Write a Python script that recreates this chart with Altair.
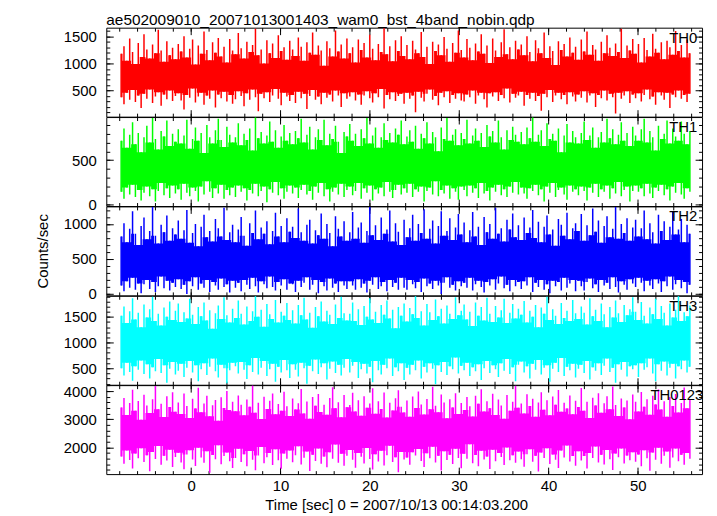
import altair as alt
import pandas as pd

TITLE = "ae502009010_20071013001403_wam0_bst_4band_nobin.qdp"
X_TITLE = "Time [sec] 0 = 2007/10/13 00:14:03.200"
Y_TITLE = "Counts/sec"

# time bins (sec, relative to 2007/10/13 00:14:03.200)
T_START = -8.0
T_STEP = 0.32

# per time bin: upper and lower envelope of the plotted light curve (counts/sec)
TH0_HI = [
    1180, 1320, 1050, 1460, 1210, 990, 1380, 1120, 1540, 1260, 1090, 1350, 1190, 1620, 1240, 1030, 1410, 1150, 1290, 1080,
    1360, 1220, 1500, 1110, 1270, 1440, 980, 1330, 1180, 1590, 1250, 1060, 1390, 1200, 1470, 1130, 1310, 1020, 1450, 1240,
    1170, 1560, 1280, 1090, 1400, 1210, 1340, 1640, 1150, 1260, 1000, 1430, 1190, 1370, 1100, 1520, 1230, 1300, 1070, 1420,
    1260, 1140, 1480, 1310, 1050, 1390, 1200, 1570, 1160, 1330, 1240, 960, 1410, 1280, 1130, 1610, 1220, 1350, 1090, 1460,
    1190, 1300, 1020, 1440, 1250, 1380, 1110, 1530, 1270, 1060, 1360, 1210, 1650, 1170, 1320, 1040, 1430, 1230, 1500, 1140,
    1340, 1080, 1420, 1260, 1190, 1580, 1120, 1310, 990, 1400, 1230, 1350, 1150, 1490, 1270, 1030, 1380, 1200, 1610, 1250,
    1110, 1450, 1290, 1060, 1370, 1220, 1540, 1180, 1330, 1010, 1460, 1240, 1120, 1390, 1630, 1170, 1300, 1080, 1420, 1260,
    1350, 1150, 1500, 1210, 1040, 1430, 1280, 1190, 1570, 1100, 1320, 1230, 970, 1410, 1250, 1360, 1130, 1480, 1200, 1310,
    1070, 1440, 1220, 1590, 1160, 1340, 1260, 1050, 1400, 1190, 1520, 1290, 1140, 1370, 1210, 1640, 1100, 1330, 1240, 1450,
    1180, 1360, 1020, 1470, 1250, 1130, 1550, 1270, 1200, 1390, 1080, 1420, 1300, 1160, 1600, 1230, 1340, 1110, 1440, 1190,
]
TH0_LO = [
    380, 250, 460, 330, 510, 290, 410, 180, 440, 350, 520, 270, 390, 470, 220, 430, 340, 500, 310, 400,
    450, 320, 150, 420, 370, 540, 280, 390, 460, 240, 410, 350, 500, 190, 430, 360, 480, 300, 420, 260,
    340, 490, 400, 210, 450, 330, 520, 380, 120, 440, 360, 470, 290, 410, 530, 350, 230, 460, 390, 310,
    420, 270, 480, 360, 440, 160, 400, 510, 330, 390, 250, 460, 370, 430, 300, 500, 410, 200, 450, 350,
    390, 470, 320, 430, 240, 410, 490, 360, 280, 450, 380, 530, 170, 420, 340, 470, 310, 400, 440, 260,
    460, 350, 410, 100, 480, 370, 300, 440, 520, 330, 400, 230, 460, 380, 490, 270, 420, 350, 450, 320,
    300, 430, 380, 500, 260, 410, 460, 340, 190, 450, 390, 470, 310, 420, 360, 540, 280, 440, 370, 410,
    480, 220, 420, 350, 460, 310, 400, 130, 440, 380, 510, 290, 410, 460, 340, 420, 250, 470, 390, 300,
    430, 370, 490, 280, 410, 450, 200, 420, 360, 500, 320, 440, 380, 80, 460, 350, 410, 490, 270, 430,
    360, 450, 300, 420, 520, 340, 390, 240, 470, 410, 330, 460, 180, 430, 380, 500, 350, 420, 290, 440,
]

TH1_HI = [
    720, 860, 640, 790, 930, 680, 810, 590, 760, 890, 700, 980, 740, 620, 830, 770, 950, 660, 800, 710,
    850, 690, 780, 960, 630, 740, 870, 720, 810, 580, 900, 760, 690, 840, 970, 730, 650, 880, 790, 700,
    760, 920, 670, 800, 730, 860, 610, 985, 750, 820, 690, 780, 940, 710, 840, 640, 770, 900, 720, 810,
    680, 830, 750, 970, 700, 790, 880, 620, 760, 850, 730, 960, 670, 800, 740, 890, 710, 580, 820, 770,
    910, 720, 800, 660, 850, 750, 980, 690, 780, 870, 640, 760, 920, 730, 810, 700, 860, 790, 950, 680,
    770, 840, 710, 890, 630, 800, 750, 930, 690, 820, 760, 600, 870, 740, 980, 720, 790, 850, 670, 810,
    740, 960, 690, 780, 860, 720, 810, 650, 900, 770, 830, 700, 950, 760, 620, 840, 730, 880, 790, 710,
    820, 680, 870, 750, 985, 710, 790, 840, 660, 920, 740, 800, 720, 860, 590, 780, 910, 700, 830, 760,
    690, 810, 940, 730, 780, 870, 640, 760, 820, 700, 970, 750, 850, 680, 790, 930, 720, 810, 660, 880,
    780, 720, 850, 970, 700, 830, 760, 610, 890, 740, 800, 950, 690, 860, 770, 720, 940, 800, 680, 830,
]
TH1_LO = [
    140, 60, 190, 110, 220, 80, 160, 40, 130, 200, 90, 170, 30, 150, 240, 100, 180, 70, 210, 120,
    170, 50, 230, 130, 90, 190, 150, 30, 200, 110, 260, 140, 70, 180, 120, 220, 60, 160, 100, 190,
    80, 210, 140, 180, 40, 160, 120, 230, 90, 150, 200, 20, 170, 130, 250, 100, 180, 60, 140, 210,
    120, 190, 70, 160, 220, 110, 150, 50, 200, 130, 240, 90, 170, 30, 140, 190, 110, 230, 80, 160,
    200, 100, 150, 240, 60, 180, 130, 210, 40, 170, 120, 190, 90, 250, 140, 70, 160, 220, 110, 180,
    130, 230, 80, 170, 140, 200, 30, 150, 190, 110, 260, 90, 160, 120, 210, 60, 180, 140, 50, 200,
    160, 90, 210, 130, 180, 70, 240, 120, 150, 40, 190, 140, 220, 100, 170, 80, 200, 130, 250, 110,
    190, 120, 60, 180, 150, 220, 100, 170, 30, 200, 130, 240, 80, 160, 190, 110, 50, 210, 140, 170,
    100, 200, 150, 40, 190, 130, 230, 80, 170, 140, 210, 60, 180, 120, 250, 90, 160, 200, 30, 150,
    210, 140, 180, 90, 230, 120, 70, 190, 150, 220, 100, 170, 40, 200, 130, 240, 110, 60, 180, 140,
]

TH2_HI = [
    820, 1010, 740, 930, 1180, 860, 700, 970, 1090, 780, 900, 1240, 830, 720, 990, 880, 1120, 760, 940, 850,
    1050, 790, 910, 1200, 730, 870, 1000, 680, 960, 1130, 810, 900, 750, 1070, 940, 820, 1230, 770, 880, 990,
    740, 920, 1100, 830, 690, 1010, 870, 1190, 780, 950, 860, 1040, 710, 900, 1160, 820, 970, 740, 1080, 890,
    960, 800, 1220, 880, 760, 990, 1060, 720, 910, 840, 1150, 790, 1000, 870, 680, 1110, 930, 820, 1040, 760,
    880, 1170, 790, 950, 1020, 730, 900, 1240, 840, 980, 770, 1090, 860, 920, 1190, 750, 1010, 890, 700, 1060,
    810, 940, 1130, 760, 1000, 870, 1210, 790, 930, 1050, 720, 970, 1180, 830, 900, 1080, 770, 950, 1140, 850,
    1020, 740, 910, 1170, 820, 960, 700, 1100, 880, 1000, 790, 1230, 860, 940, 750, 1060, 920, 1150, 810, 980,
    770, 1090, 870, 950, 1200, 800, 1030, 740, 960, 1120, 850, 920, 690, 1070, 990, 830, 1160, 780, 940, 1010,
    900, 1140, 760, 980, 840, 1220, 890, 1050, 730, 970, 1110, 810, 930, 1240, 790, 1000, 870, 1080, 760, 950,
    1060, 820, 940, 1190, 780, 1010, 880, 720, 1130, 900, 1040, 770, 960, 1180, 850, 920, 1070, 740, 990, 860,
]
TH2_LO = [
    120, 40, 180, 90, 230, 60, 150, 10, 140, 200, 70, 170, 30, 110, 250, 80, 190, 50, 160, 100,
    210, 70, 130, 0, 180, 110, 240, 60, 150, 90, 200, 30, 170, 120, 60, 220, 100, 140, 20, 190,
    90, 160, 40, 200, 130, 70, 230, 110, 20, 180, 140, 80, 250, 100, 50, 170, 120, 210, 60, 150,
    140, 30, 190, 100, 160, 240, 60, 130, 200, 10, 170, 110, 50, 220, 90, 150, 30, 180, 120, 70,
    180, 120, 60, 210, 90, 150, 20, 190, 130, 240, 70, 110, 170, 40, 200, 100, 160, 60, 230, 90,
    60, 200, 140, 80, 170, 30, 220, 110, 150, 70, 190, 120, 0, 160, 240, 90, 130, 50, 180, 110,
    160, 90, 230, 50, 140, 190, 100, 20, 170, 120, 210, 60, 150, 250, 80, 130, 40, 200, 110, 170,
    70, 180, 120, 240, 30, 160, 100, 200, 60, 140, 10, 190, 110, 170, 50, 230, 90, 150, 200, 40,
    190, 110, 50, 170, 220, 80, 140, 30, 200, 120, 160, 70, 240, 100, 20, 180, 130, 60, 210, 150,
    100, 230, 160, 40, 190, 120, 70, 210, 150, 30, 180, 110, 250, 60, 140, 200, 80, 170, 10, 130,
]

TH3_HI = [
    1520, 1700, 1380, 1610, 1860, 1450, 1580, 1300, 1740, 1490, 1650, 1890, 1420, 1560, 1330, 1680, 1500, 1800, 1440, 1620,
    1760, 1400, 1590, 1470, 1850, 1540, 1360, 1690, 1510, 1780, 1430, 1630, 1270, 1570, 1720, 1460, 1880, 1530, 1390, 1660,
    1480, 1820, 1560, 1350, 1700, 1420, 1610, 1900, 1500, 1640, 1310, 1750, 1550, 1460, 1830, 1390, 1600, 1520, 1770, 1440,
    1630, 1370, 1730, 1530, 1870, 1450, 1580, 1290, 1690, 1510, 1800, 1410, 1620, 1540, 1360, 1740, 1480, 1890, 1570, 1430,
    1560, 1780, 1420, 1650, 1340, 1710, 1500, 1860, 1450, 1600, 1380, 1730, 1540, 1820, 1470, 1640, 1280, 1690, 1520, 1760,
    1410, 1670, 1550, 1900, 1480, 1610, 1330, 1750, 1590, 1440, 1840, 1510, 1660, 1370, 1720, 1560, 1460, 1880, 1530, 1620,
    1740, 1450, 1600, 1320, 1780, 1520, 1690, 1430, 1870, 1560, 1400, 1710, 1490, 1630, 1850, 1380, 1580, 1750, 1470, 1660,
    1540, 1810, 1390, 1620, 1500, 1730, 1300, 1680, 1560, 1890, 1440, 1650, 1520, 1360, 1770, 1480, 1620, 1420, 1830, 1570,
    1460, 1700, 1580, 1350, 1860, 1510, 1640, 1420, 1760, 1550, 1300, 1690, 1490, 1820, 1570, 1400, 1730, 1530, 1650, 1880,
    1600, 1440, 1790, 1520, 1370, 1680, 1550, 1850, 1460, 1710, 1580, 1330, 1760, 1490, 1640, 1900, 1420, 1590, 1510, 1720,
]
TH3_LO = [
    500, 360, 610, 430, 260, 540, 470, 650, 390, 580, 300, 520, 440, 680, 410, 560, 220, 490, 620, 380,
    450, 590, 330, 510, 640, 420, 560, 250, 480, 600, 370, 530, 690, 440, 320, 570, 500, 210, 460, 610,
    540, 400, 620, 470, 290, 560, 430, 700, 380, 510, 640, 350, 480, 590, 240, 530, 420, 660, 460, 310,
    580, 470, 340, 610, 500, 200, 550, 440, 670, 390, 520, 600, 280, 490, 630, 410, 570, 360, 510, 680,
    420, 550, 620, 310, 480, 590, 400, 530, 230, 640, 460, 380, 570, 500, 690, 350, 520, 440, 600, 270,
    510, 380, 570, 460, 650, 300, 530, 420, 600, 490, 190, 560, 430, 620, 370, 540, 480, 710, 400, 550,
    460, 610, 350, 520, 440, 580, 270, 500, 640, 410, 560, 480, 330, 600, 450, 680, 390, 520, 250, 570,
    630, 420, 540, 300, 590, 470, 660, 380, 510, 560, 240, 490, 610, 430, 700, 350, 530, 460, 590, 320,
    490, 570, 410, 640, 280, 520, 450, 600, 370, 550, 690, 430, 510, 220, 580, 470, 620, 340, 540, 480,
    560, 330, 600, 470, 520, 690, 400, 250, 580, 450, 630, 360, 510, 590, 300, 540, 480, 650, 420, 530,
]

TH0123_HI = [
    3420, 3760, 3150, 3580, 4050, 3300, 3650, 2980, 3870, 3490, 3220, 3710, 4180, 3360, 3550, 3080, 3820, 3440, 3960, 3270,
    3600, 3190, 3920, 3470, 3050, 3730, 3380, 4120, 3250, 3560, 3840, 3110, 3500, 3690, 2950, 3780, 3400, 4010, 3330, 3620,
    3290, 3850, 3520, 3140, 3700, 3450, 4200, 3230, 3590, 3010, 3800, 3370, 3660, 3920, 3180, 3540, 3300, 3980, 3460, 3120,
    3740, 3350, 3570, 4080, 3210, 3630, 3020, 3790, 3480, 3900, 3260, 3520, 3160, 3760, 4140, 3390, 3610, 3070, 3860, 3430,
    3510, 3940, 3280, 3680, 3130, 3820, 3410, 3560, 4100, 3200, 3640, 3370, 3950, 3060, 3590, 3310, 3750, 4030, 3450, 3240,
    3670, 3090, 3810, 3400, 3990, 3530, 3170, 3720, 3360, 4160, 3480, 3250, 3880, 3600, 3040, 3710, 3420, 3930, 3190, 3580,
    3330, 3790, 3460, 3100, 3840, 3550, 4070, 3280, 3640, 3390, 3910, 3150, 3700, 3490, 3020, 3860, 3300, 3620, 4190, 3410,
    3560, 3210, 3890, 3470, 3730, 3090, 3600, 3960, 3340, 3680, 3140, 3810, 3520, 4040, 3270, 3590, 3380, 3850, 3180, 3660,
    3440, 4110, 3300, 3620, 3050, 3770, 3490, 3930, 3230, 3570, 3820, 3360, 4170, 3510, 3120, 3740, 3420, 3670, 3000, 3880,
    3620, 3280, 3970, 3450, 3710, 3160, 3840, 3530, 4060, 3350, 3640, 3090, 3790, 3470, 3900, 3240, 3580, 4130, 3390, 3690,
]
TH0123_LO = [
    1680, 1420, 1890, 1550, 1250, 1780, 1610, 1970, 1480, 1720, 1150, 1840, 1590, 2050, 1380, 1700, 1530, 1920, 1300, 1660,
    1810, 1460, 1220, 1750, 1900, 1570, 1340, 1990, 1640, 1450, 1860, 1100, 1730, 1580, 2080, 1400, 1690, 1820, 1510, 1270,
    1620, 1950, 1480, 1760, 1330, 1870, 1560, 1190, 1710, 2010, 1440, 1650, 1800, 1370, 1930, 1540, 1240, 1780, 1600, 1890,
    1470, 1720, 2040, 1390, 1630, 1850, 1160, 1740, 1520, 1960, 1420, 1680, 1290, 1830, 1600, 2100, 1450, 1770, 1350, 1700,
    1910, 1560, 1280, 1800, 1670, 1430, 1980, 1590, 1210, 1760, 1500, 1880, 1360, 1720, 2060, 1480, 1650, 1120, 1840, 1570,
    1640, 1380, 1830, 1710, 1940, 1520, 1300, 1790, 1610, 2020, 1460, 1700, 1180, 1860, 1550, 1740, 1410, 1950, 1620, 1260,
    1770, 1600, 2110, 1440, 1730, 1330, 1880, 1570, 1680, 1230, 1920, 1510, 1800, 1660, 1370, 2000, 1540, 1720, 1450, 1850,
    1580, 1310, 1760, 1930, 1490, 1700, 1140, 1820, 1620, 1970, 1410, 1750, 1560, 1270, 1890, 1640, 2070, 1500, 1690, 1350,
    1860, 1530, 1690, 1250, 1800, 1620, 2030, 1460, 1740, 1390, 1910, 1580, 1200, 1780, 1650, 1960, 1430, 1710, 1540, 1830,
    1490, 1750, 1330, 1900, 1610, 1170, 1820, 1560, 1990, 1420, 1700, 1850, 1280, 1640, 1960, 1510, 1740, 1380, 1800, 1600,
]

SERIES_HI = [TH0_HI, TH1_HI, TH2_HI, TH3_HI, TH0123_HI]
SERIES_LO = [TH0_LO, TH1_LO, TH2_LO, TH3_LO, TH0123_LO]
BAND_NAMES = ["TH0", "TH1", "TH2", "TH3", "TH0123"]
BAND_COLORS = ["#ff0000", "#00ff00", "#0000ff", "#00ffff", "#ff00ff"]
Y_DOMAINS = [[20, 1660], [-22, 990], [-20, 1250], [180, 1910], [1050, 4215]]
Y_MAJOR = [[500, 1000, 1500], [0, 500], [0, 500, 1000], [500, 1000, 1500], [2000, 3000, 4000]]
Y_MINOR_STEP = [100, 100, 100, 100, 200]
X_DOMAIN = [-9.5, 57.2]
X_MAJOR = [0, 10, 20, 30, 40, 50]
X_MINOR = list(range(-8, 57, 2))

FONT = "Liberation Sans"
W = 600
H = 89.6
MAJ = 7
MIN = 3.5
LABEL_X = [567, 567, 567, 567, 548]


def axis(orient, values, size, **kw):
    return alt.Axis(orient=orient, values=values, tickSize=size, offset=-size,
                    domain=False, grid=False, ticks=True, tickColor="black",
                    tickWidth=1, format="d", **kw)


def panel(i):
    hi = SERIES_HI[i]
    lo = SERIES_LO[i]
    n = len(hi)
    df = pd.DataFrame({
        "t": [T_START + T_STEP * (k + 0.5) for k in range(n)],
        "lo": lo,
        "hi": hi,
    })
    # solid inner core: where neighbouring bins overlap
    df["core_hi"] = df["hi"].rolling(3, center=True, min_periods=1).min()
    df["core_lo"] = df["lo"].rolling(3, center=True, min_periods=1).max()
    base = alt.Chart(df)
    xs = alt.Scale(domain=X_DOMAIN, nice=False, zero=False)
    ys = alt.Scale(domain=Y_DOMAINS[i], nice=False, zero=False)
    dlo, dhi = Y_DOMAINS[i]
    step = Y_MINOR_STEP[i]
    yminor = [v for v in range(0, 5000, step) if dlo <= v <= dhi]
    last = i == len(SERIES_HI) - 1

    if last:
        xmain = axis("bottom", X_MAJOR, MAJ, labels=True, labelPadding=5,
                     labelFontSize=15, title=X_TITLE, titlePadding=4, titleX=292)
    else:
        xmain = axis("bottom", X_MAJOR, MAJ, labels=False, title=None)
    if i == 2:
        ymain = axis("left", Y_MAJOR[i], MAJ, labels=True, labelPadding=10,
                     labelFontSize=15, title=Y_TITLE, titlePadding=13)
    else:
        ymain = axis("left", Y_MAJOR[i], MAJ, labels=True, labelPadding=10,
                     labelFontSize=15, title=None)

    core = base.mark_area(color=BAND_COLORS[i], interpolate="step", opacity=1,
                          clip=True).encode(
        x=alt.X("t:Q", scale=xs, axis=xmain),
        y=alt.Y("core_lo:Q", scale=ys, axis=ymain),
        y2="core_hi:Q",
    )
    hairs = base.mark_rule(color=BAND_COLORS[i], strokeWidth=1.5, clip=True).encode(
        x=alt.X("t:Q", scale=xs, axis=None),
        y=alt.Y("lo:Q", scale=ys, axis=None),
        y2="hi:Q",
    )

    def ghost(xa, ya):
        return base.mark_point(opacity=0).encode(
            x=alt.X("t:Q", scale=xs, axis=xa),
            y=alt.Y("lo:Q", scale=ys, axis=ya),
        )

    g1 = ghost(axis("bottom", X_MINOR, MIN, labels=False, title=None),
               axis("left", yminor, MIN, labels=False, title=None))
    g2 = ghost(axis("top", X_MAJOR, MAJ, labels=False, title=None),
               axis("right", Y_MAJOR[i], MAJ, labels=False, title=None))
    g3 = ghost(axis("top", X_MINOR, MIN, labels=False, title=None),
               axis("right", yminor, MIN, labels=False, title=None))

    lab = alt.Chart(pd.DataFrame({"name": [BAND_NAMES[i]]})).mark_text(
        align="left", baseline="middle", fontSize=15, font=FONT, color="black"
    ).encode(x=alt.value(LABEL_X[i]), y=alt.value(10), text="name:N")

    ch = alt.layer(core, hairs, g1, g2, g3, lab).resolve_axis(
        x="independent", y="independent").properties(width=W, height=H)
    if i == 0:
        ch = ch.properties(title=alt.TitleParams(
            TITLE, anchor="start", frame="group", fontSize=15.5, font=FONT,
            fontWeight="normal", color="black", offset=-1))
    return ch


chart = alt.vconcat(*[panel(i) for i in range(len(SERIES_HI))], spacing=0,
                    bounds="flush").properties(
    padding={"left": 27, "top": 2, "right": 5, "bottom": 5}
).configure_view(stroke="black", strokeWidth=1).configure_axis(
    labelFont=FONT, titleFont=FONT, labelColor="black", titleColor="black",
    titleFontSize=15, titleFontWeight="normal"
)

chart.save("out.html", embed_options={"renderer": "svg", "actions": False})
